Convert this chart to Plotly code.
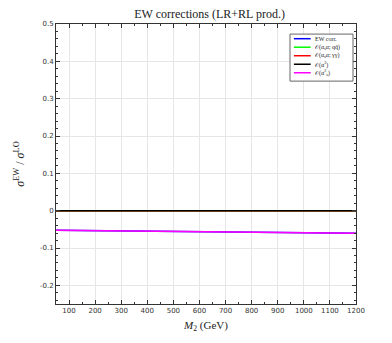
import plotly.graph_objects as go

# Масса M2 (GeV)
m2 = [50, 100, 150, 200, 250, 300, 350, 400, 450, 500, 550, 600,
      650, 700, 750, 800, 850, 900, 950, 1000, 1050, 1100, 1150, 1200]

# Поправки, отношение к LO
ew_corr = [-0.0525, -0.0528, -0.0531, -0.0534, -0.0537, -0.054, -0.0543, -0.0546,
           -0.0549, -0.0553, -0.0556, -0.056, -0.0563, -0.0567, -0.057, -0.0574,
           -0.0577, -0.0581, -0.0585, -0.0588, -0.0592, -0.0596, -0.06, -0.0604]
qqbar = [0.0] * len(m2)
gamma = [0.0] * len(m2)
alpha2 = [0.0] * len(m2)
alphas2 = ew_corr[:]

names = ['EW corr.', '𝒪(α<sub>s</sub>α; qq̄)', '𝒪(α<sub>s</sub>α; γγ)',
         '𝒪(α<sup>2</sup>)', '𝒪(α<sup>2</sup><sub>s</sub>)']
series = [ew_corr, qqbar, gamma, alpha2, alphas2]
colors = ['#0000ff', '#00ff00', '#ff0000', '#000000', '#ff00ff']

fig = go.Figure()
for name, ys, color in zip(names, series, colors):
    fig.add_trace(go.Scatter(x=m2, y=ys, mode='lines', name=name,
                             line=dict(color=color, width=1.5)))

serif = 'Liberation Serif'

# Компактная легенда вручную (штатная слишком высокая)
fig.add_shape(type='rect', xref='paper', yref='paper',
              x0=0.780, x1=0.990, y0=0.796, y1=0.964,
              line=dict(color='#666666', width=1), fillcolor='white')
for i, (name, color) in enumerate(zip(names, colors)):
    yy = 0.9475 - i * 0.0304
    fig.add_shape(type='line', xref='paper', yref='paper',
                  x0=0.793, x1=0.849, y0=yy, y1=yy,
                  line=dict(color=color, width=1.5))
    fig.add_annotation(xref='paper', yref='paper', x=0.858, y=yy,
                       text=name, showarrow=False, xanchor='left', yanchor='middle',
                       font=dict(family=serif, size=6, color='#222222'))

axis_common = dict(
    showline=True, linecolor='#333333', linewidth=1, mirror='allticks',
    ticks='inside', ticklen=4, tickcolor='#333333',
    showgrid=True, gridcolor='#e6e6e6', gridwidth=1,
    zeroline=False, tickfont=dict(size=7, color='#333333', family='DejaVu Sans'),
)

# страница добавляет отступ 8px у body
fig.update_layout(
    width=384, height=335,
    margin=dict(l=44, r=36, t=16, b=39),
    paper_bgcolor='white', plot_bgcolor='white',
    title=dict(text='EW corrections (LR+RL prod.)', x=0.525, xanchor='center',
               y=0.982, yanchor='middle',
               font=dict(family=serif, size=12, color='#222222')),
    showlegend=False,
)

fig.update_xaxes(range=[50, 1200], dtick=100, tick0=0,
                 minor=dict(dtick=50, ticks='inside', ticklen=2, tickcolor='#333333', showgrid=False),
                 title=dict(text='<i>M</i><sub>2</sub> (GeV)', standoff=6,
                            font=dict(family=serif, size=11, color='#222222')),
                 **axis_common)
fig.update_yaxes(range=[-0.25, 0.5],
                 tickvals=[-0.2, -0.1, 0, 0.1, 0.2, 0.3, 0.4, 0.5],
                 ticktext=['-0.2', '-0.1', '0', '0.1', '0.2', '0.3', '0.4', '0.5'],
                 minor=dict(dtick=0.02, tick0=0, ticks='inside', ticklen=2, tickcolor='#333333', showgrid=False),
                 title=dict(text='<i>σ</i><sup>EW</sup> / <i>σ</i><sup>LO</sup>', standoff=12,
                            font=dict(family=serif, size=12, color='#222222')),
                 **axis_common)

fig.write_html("out.html")
